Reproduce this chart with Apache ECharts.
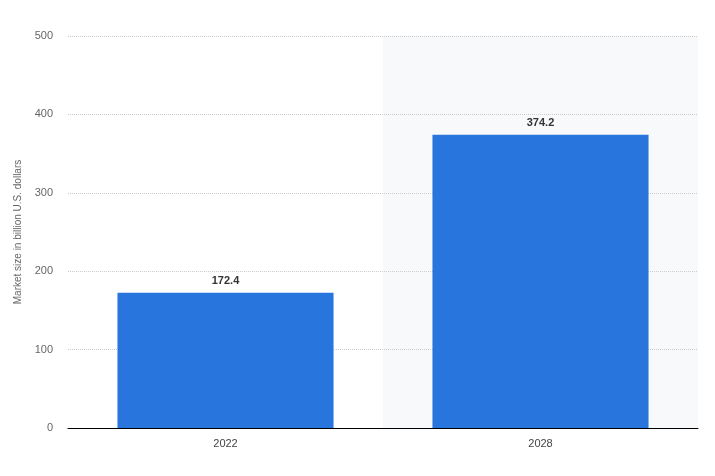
<!DOCTYPE html>
<html><head><meta charset="utf-8">
<script src="https://cdn.jsdelivr.net/npm/echarts@6/dist/echarts.min.js"></script>
<style>html,body{margin:0;padding:0;background:#fff}#c{width:715px;height:476px}</style>
</head><body><div id="c"></div>
<script>
const categories = ['2022', '2028'];
const values = [172.4, 374.2];
const yTicks = [0, 100, 200, 300, 400, 500];

const chart = echarts.init(document.getElementById('c'), null, {renderer: 'canvas'});
chart.setOption({
  animation: false,
  grid: {left: 68, right: 17, top: 36, bottom: 48},
  xAxis: [{
    type: 'category', data: categories, boundaryGap: true, z: 0, position: 'bottom',
    axisLine: {show: false}, axisTick: {show: false}, axisLabel: {show: false},
    splitArea: {show: true, areaStyle: {color: ['rgba(255,255,255,0)', '#f8f9fa']}}
  }, {
    type: 'category', data: categories, boundaryGap: true, z: 5, position: 'bottom',
    axisLine: {onZero: false, lineStyle: {color: '#000', width: 1}},
    axisTick: {show: false},
    axisLabel: {color: '#444', fontSize: 11, fontFamily: 'Arial, Liberation Sans', margin: 10}
  }],
  yAxis: {
    type: 'value', min: yTicks[0], max: yTicks[yTicks.length-1], interval: 100, z: 1,
    name: 'Market size in billion U.S. dollars', nameLocation: 'middle', nameGap: 42,
    nameTextStyle: {color: '#666', fontSize: 10, fontFamily: 'Arial, Liberation Sans'},
    axisLine: {show: false}, axisTick: {show: false},
    axisLabel: {color: '#666', fontSize: 11, fontFamily: 'Arial, Liberation Sans', margin: 15},
    splitLine: {lineStyle: {color: '#ccc', type: [1, 1]}}
  },
  series: [{
    type: 'bar', data: values, barWidth: '68.6%', z: 2, xAxisIndex: 0,
    itemStyle: {color: '#2876dd'},
    label: {show: true, position: 'top', distance: 6, color: '#333', fontWeight: 'bold', fontSize: 11, fontFamily: 'Arial, Liberation Sans', formatter: p => p.value.toFixed(1)}
  }]
});
</script></body></html>
